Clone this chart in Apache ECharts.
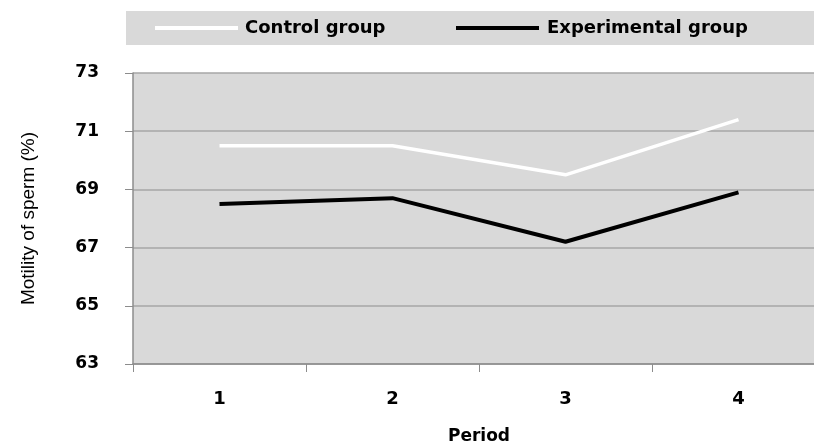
<!DOCTYPE html>
<html>
<head>
<meta charset="utf-8">
<script src="https://cdn.jsdelivr.net/npm/echarts@6/dist/echarts.min.js"></script>
<style>html,body{margin:0;padding:0;background:#fff;}#c{width:814px;height:445px;}</style>
</head>
<body>
<div id="c"></div>
<script>
const periods = ['1', '2', '3', '4'];
const controlGroup = [70.5, 70.5, 69.5, 71.4];
const experimentalGroup = [68.5, 68.7, 67.2, 68.9];
const yTicks = [63, 65, 67, 69, 71, 73];
const seriesNames = ['Control group', 'Experimental group'];

const chart = echarts.init(document.getElementById('c'));
const boldFont = {fontFamily: 'DejaVu Sans', fontWeight: 'bold', color: '#000'};
chart.setOption({
  animation: false,
  backgroundColor: '#fff',
  legend: {
    left: 126, top: 11, width: 720, orient: 'horizontal',
    padding: [8, 20, 8, 29],
    backgroundColor: '#d9d9d9',
    itemWidth: 83, itemHeight: 4, itemGap: 29,
    icon: 'rect',
    data: seriesNames,
    formatter: function (name) {
      return (name === seriesNames[0] ? '{a|' : '{b|') + name + '}';
    },
    textStyle: {
      rich: {
        a: Object.assign({fontSize: 18, width: 182, lineHeight: 18, padding: [0, 0, 0, 2]}, boldFont),
        b: Object.assign({fontSize: 18, width: 256, lineHeight: 18, padding: [0, 0, 0, 3]}, boldFont)
      }
    }
  },
  grid: {left: 133, top: 73, right: -11, height: 291, backgroundColor: '#d9d9d9', show: true, borderWidth: 0, outerBoundsMode: 'none', containLabel: false},
  xAxis: {
    type: 'category', data: periods, boundaryGap: true,
    name: 'Period', nameLocation: 'middle', nameGap: 64,
    nameTextStyle: Object.assign({fontSize: 17}, boldFont),
    axisLine: {lineStyle: {color: '#8c8c8c', width: 1.5}},
    axisTick: {show: true, length: 8, lineStyle: {color: '#8c8c8c'}},
    axisLabel: Object.assign({fontSize: 18, margin: 26}, boldFont),
    splitLine: {show: false}
  },
  yAxis: {
    type: 'value', min: 63, max: 73,
    name: 'Motility of sperm (%)', nameLocation: 'middle', nameGap: 95,
    nameTextStyle: {fontFamily: 'Liberation Sans', fontSize: 19, color: '#000'},
    axisLine: {show: true, lineStyle: {color: '#8c8c8c', width: 1.5}},
    axisTick: {show: true, length: 8, customValues: yTicks, lineStyle: {color: '#8c8c8c'}},
    axisLabel: Object.assign({fontSize: 17, margin: 34, customValues: yTicks}, boldFont),
    splitLine: {show: true, lineStyle: {color: '#a6a6a6', width: 1.5}}
  },
  series: [
    {name: seriesNames[0], type: 'line', data: controlGroup, symbol: 'none',
     itemStyle: {color: '#ffffff'}, lineStyle: {color: '#ffffff', width: 3.5}},
    {name: seriesNames[1], type: 'line', data: experimentalGroup, symbol: 'none',
     itemStyle: {color: '#000000'}, lineStyle: {color: '#000000', width: 4}}
  ]
});
</script>
</body>
</html>
